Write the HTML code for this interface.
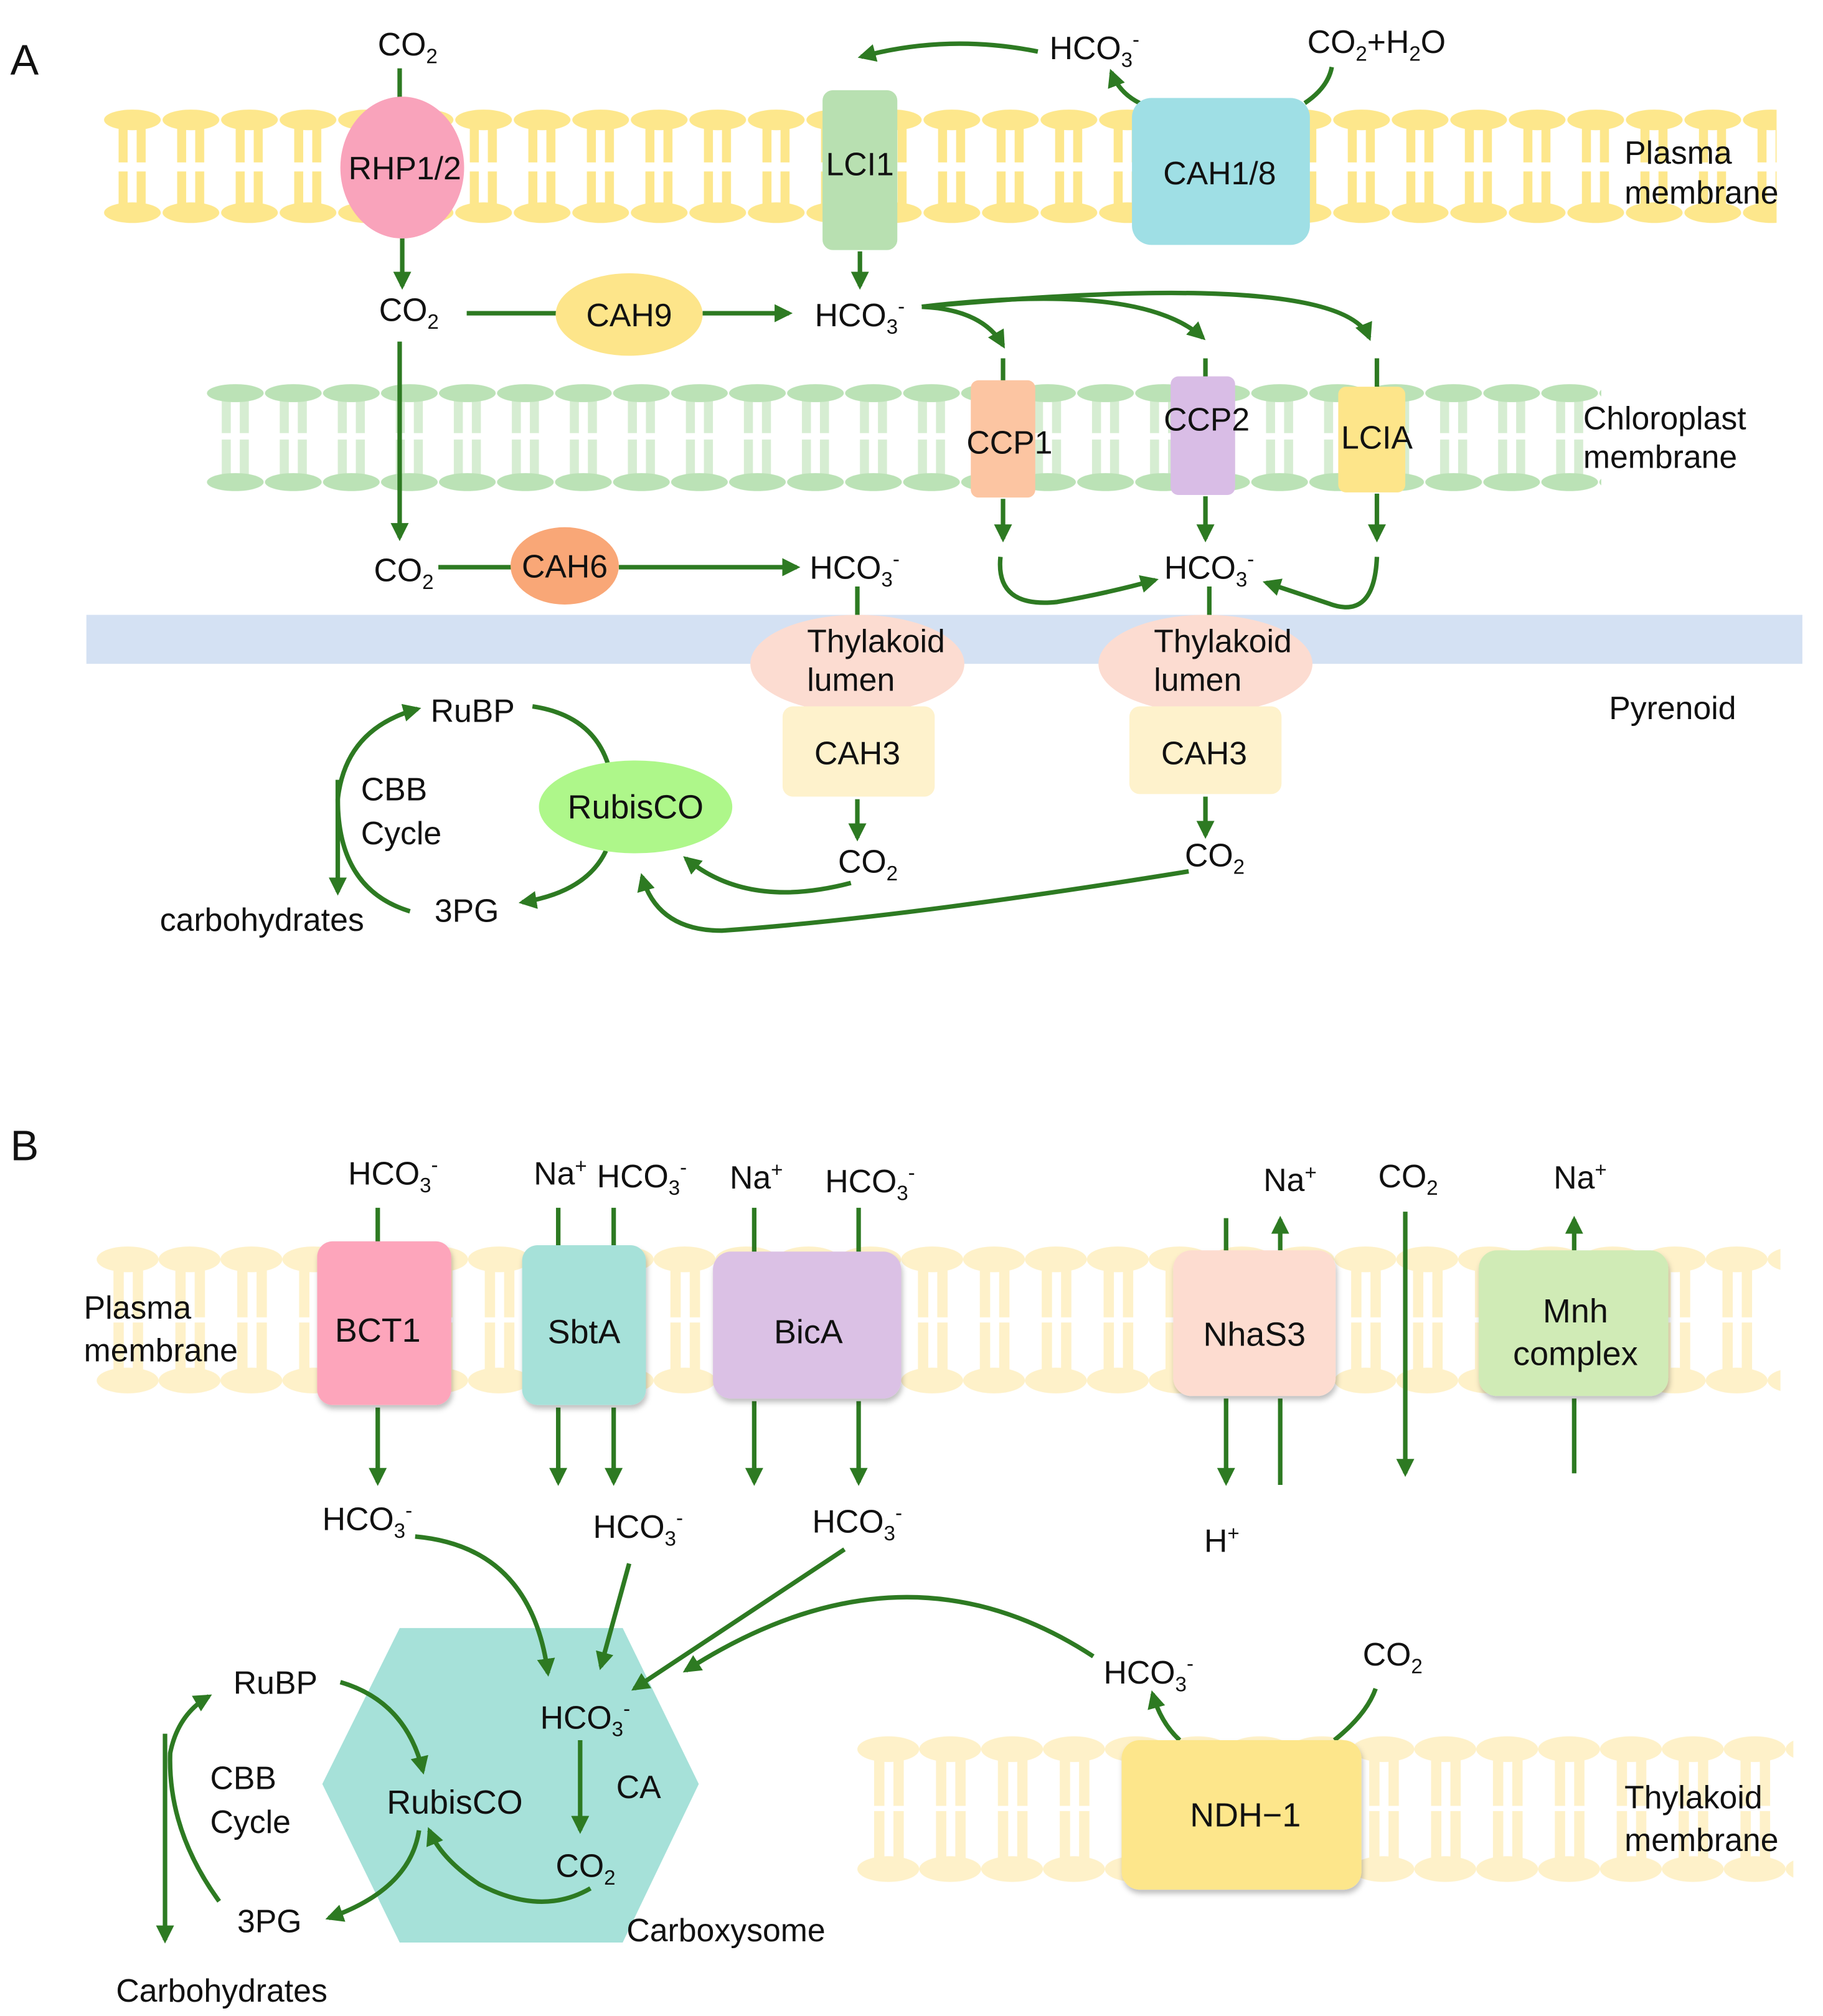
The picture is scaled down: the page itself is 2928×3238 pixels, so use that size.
<!DOCTYPE html>
<html><head><meta charset="utf-8"><style>
html,body{margin:0;padding:0;background:#fff;}
svg{display:block}
text{font-family:"Liberation Sans",Arial,sans-serif;fill:#111;}
</style></head><body>
<svg width="2928" height="3238" viewBox="0 0 1414 1564" preserveAspectRatio="none" xmlns="http://www.w3.org/2000/svg">
<defs>
<marker id="ah" viewBox="0 0 10 10" refX="8" refY="5" markerWidth="4" markerHeight="4" orient="auto" markerUnits="strokeWidth">
<path d="M0,0 L10,5 L0,10 z" fill="#2d7a22"/></marker>
<pattern id="pmA" patternUnits="userSpaceOnUse" x="80" y="84" width="45.4" height="92">
<rect x="12" y="9" width="7" height="33" fill="#fde78c"/><rect x="26" y="9" width="7" height="33" fill="#fde78c"/>
<rect x="12" y="49" width="7" height="33" fill="#fde78c"/><rect x="26" y="49" width="7" height="33" fill="#fde78c"/>
<ellipse cx="22.7" cy="9" rx="22" ry="8" fill="#fde78c"/><ellipse cx="22.7" cy="81" rx="22" ry="8" fill="#fde78c"/>
</pattern>
<pattern id="chA" patternUnits="userSpaceOnUse" x="160" y="297" width="45" height="85">
<rect x="12" y="7" width="7" height="32" fill="#d6edd2"/><rect x="26" y="7" width="7" height="32" fill="#d6edd2"/>
<rect x="12" y="44" width="7" height="34" fill="#d6edd2"/><rect x="26" y="44" width="7" height="34" fill="#d6edd2"/>
<ellipse cx="22.5" cy="8" rx="22" ry="7" fill="#bbe2b6"/><ellipse cx="22.5" cy="77" rx="22" ry="7" fill="#bbe2b6"/>
</pattern>
<pattern id="pmB" patternUnits="userSpaceOnUse" x="75" y="966" width="48" height="116">
<rect x="13" y="11" width="8" height="45" fill="#fef1c9"/><rect x="28" y="11" width="8" height="45" fill="#fef1c9"/>
<rect x="13" y="60" width="8" height="45" fill="#fef1c9"/><rect x="28" y="60" width="8" height="45" fill="#fef1c9"/>
<ellipse cx="24" cy="11" rx="24" ry="10" fill="#fef1c9"/><ellipse cx="24" cy="105" rx="24" ry="10" fill="#fef1c9"/>
</pattern>
<pattern id="thB" patternUnits="userSpaceOnUse" x="665" y="1346" width="48" height="115">
<rect x="13" y="11" width="8" height="44" fill="#fef1c9"/><rect x="28" y="11" width="8" height="44" fill="#fef1c9"/>
<rect x="13" y="59" width="8" height="45" fill="#fef1c9"/><rect x="28" y="59" width="8" height="45" fill="#fef1c9"/>
<ellipse cx="24" cy="11" rx="24" ry="10" fill="#fef1c9"/><ellipse cx="24" cy="104" rx="24" ry="10" fill="#fef1c9"/>
</pattern>
<filter id="sh" x="-20%" y="-20%" width="140%" height="140%"><feDropShadow dx="1" dy="3" stdDeviation="2" flood-color="#000" flood-opacity="0.25"/></filter>
</defs>

<g font-size="25">
<!-- ===== Panel A ===== -->
<text x="8" y="58" font-size="33">A</text>
<rect x="80" y="84" width="1298" height="92" fill="url(#pmA)"/>
<rect x="160" y="297" width="1082" height="85" fill="url(#chA)"/>
<rect x="67" y="477" width="1331" height="38" fill="#d4e1f3"/>

<g stroke="#2d7a22" stroke-width="3.5" fill="none">
<line x1="310" y1="53" x2="310" y2="80"/>
<line x1="312" y1="185" x2="312" y2="222" marker-end="url(#ah)"/>
<line x1="362" y1="243" x2="432" y2="243"/>
<line x1="545" y1="243" x2="612" y2="243" marker-end="url(#ah)"/>
<line x1="310" y1="265" x2="310" y2="417" marker-end="url(#ah)"/>
<line x1="340" y1="440" x2="398" y2="440"/>
<line x1="480" y1="440" x2="618" y2="440" marker-end="url(#ah)"/>
<line x1="667" y1="195" x2="667" y2="222" marker-end="url(#ah)"/>
<path d="M805,40 Q735,26 668,44" marker-end="url(#ah)"/>
<path d="M1012,80 Q1030,68 1033,52"/>
<path d="M884,80 Q868,72 862,56" marker-end="url(#ah)"/>
<path d="M715,238 Q762,240 778,268" marker-end="url(#ah)"/>
<path d="M715,238 Q885,218 933,262" marker-end="url(#ah)"/>
<path d="M715,238 Q1040,208 1062,262" marker-end="url(#ah)"/>
<line x1="778" y1="278" x2="778" y2="296"/>
<line x1="935" y1="278" x2="935" y2="293"/>
<line x1="1068" y1="278" x2="1068" y2="300"/>
<line x1="778" y1="387" x2="778" y2="418" marker-end="url(#ah)"/>
<line x1="935" y1="385" x2="935" y2="418" marker-end="url(#ah)"/>
<line x1="1068" y1="383" x2="1068" y2="418" marker-end="url(#ah)"/>
<path d="M776,432 Q772,472 820,467 Q860,460 896,450" marker-end="url(#ah)"/>
<path d="M1068,432 Q1066,482 1030,468 Q1000,458 982,452" marker-end="url(#ah)"/>
<line x1="938" y1="455" x2="938" y2="480"/>
<line x1="665" y1="455" x2="665" y2="480"/>
<line x1="665" y1="620" x2="665" y2="650" marker-end="url(#ah)"/>
<line x1="935" y1="618" x2="935" y2="648" marker-end="url(#ah)"/>
<path d="M413,548 Q460,555 472,594"/>
<path d="M470,660 Q455,692 405,700" marker-end="url(#ah)"/>
<path d="M318,707 Q262,690 262,620 Q268,565 324,550" marker-end="url(#ah)"/>
<line x1="262" y1="605" x2="262" y2="692" marker-end="url(#ah)"/>
<path d="M660,685 Q580,706 532,666" marker-end="url(#ah)"/>
<path d="M922,676 Q700,712 560,722 Q510,722 498,680" marker-end="url(#ah)"/>
</g>

<ellipse cx="312" cy="130" rx="48" ry="55" fill="#f9a3bb"/>
<text x="314" y="139" text-anchor="middle">RHP1/2</text>
<rect x="638" y="70" width="58" height="124" rx="8" fill="#b8e0b1"/>
<text x="667" y="136" text-anchor="middle">LCI1</text>
<rect x="878" y="76" width="138" height="114" rx="15" fill="#9fdfe5"/>
<text x="946" y="143" text-anchor="middle">CAH1/8</text>
<ellipse cx="488" cy="244" rx="57" ry="32" fill="#fde58a"/>
<text x="488" y="253" text-anchor="middle">CAH9</text>
<ellipse cx="438" cy="439" rx="42" ry="30" fill="#f9a777"/>
<text x="438" y="448" text-anchor="middle">CAH6</text>
<rect x="753" y="295" width="50" height="91" rx="6" fill="#fcc5a2"/>
<text x="783" y="352" text-anchor="middle">CCP1</text>
<rect x="908" y="292" width="50" height="92" rx="6" fill="#d9bde6"/>
<text x="936" y="334" text-anchor="middle">CCP2</text>
<rect x="1038" y="300" width="52" height="82" rx="6" fill="#fde58a"/>
<text x="1068" y="348" text-anchor="middle">LCIA</text>
<ellipse cx="665" cy="515" rx="83" ry="38" fill="#fcdcd1"/>
<ellipse cx="935" cy="515" rx="83" ry="38" fill="#fcdcd1"/>
<rect x="607" y="548" width="118" height="70" rx="8" fill="#fef2cc"/>
<rect x="876" y="548" width="118" height="68" rx="8" fill="#fef2cc"/>
<text x="626" y="506">Thylakoid</text><text x="626" y="536">lumen</text>
<text x="895" y="506">Thylakoid</text><text x="895" y="536">lumen</text>
<text x="665" y="593" text-anchor="middle">CAH3</text>
<text x="934" y="593" text-anchor="middle">CAH3</text>
<ellipse cx="493" cy="626" rx="75" ry="36" fill="#aef78a"/>
<text x="493" y="635" text-anchor="middle" font-size="26">RubisCO</text>

<text x="293" y="43">CO<tspan font-size="16" dy="6">2</tspan></text>
<text x="294" y="249">CO<tspan font-size="16" dy="6">2</tspan></text>
<text x="290" y="451">CO<tspan font-size="16" dy="6">2</tspan></text>
<text x="632" y="253">HCO<tspan font-size="16" dy="6">3</tspan><tspan font-size="16" dy="-16">-</tspan></text>
<text x="628" y="449">HCO<tspan font-size="16" dy="6">3</tspan><tspan font-size="16" dy="-16">-</tspan></text>
<text x="903" y="449">HCO<tspan font-size="16" dy="6">3</tspan><tspan font-size="16" dy="-16">-</tspan></text>
<text x="814" y="46">HCO<tspan font-size="16" dy="6">3</tspan><tspan font-size="16" dy="-16">-</tspan></text>
<text x="1014" y="41">CO<tspan font-size="16" dy="6">2</tspan><tspan dy="-6">+H</tspan><tspan font-size="16" dy="6">2</tspan><tspan dy="-6">O</tspan></text>
<text x="650" y="677">CO<tspan font-size="16" dy="6">2</tspan></text>
<text x="919" y="672">CO<tspan font-size="16" dy="6">2</tspan></text>
<text x="1260" y="127">Plasma</text><text x="1260" y="158">membrane</text>
<text x="1228" y="333">Chloroplast</text><text x="1228" y="363">membrane</text>
<text x="1248" y="558">Pyrenoid</text>
<text x="334" y="560">RuBP</text>
<text x="337" y="715">3PG</text>
<text x="280" y="621">CBB</text><text x="280" y="655">Cycle</text>
<text x="124" y="722">carbohydrates</text>

<!-- ===== Panel B ===== -->
<text x="8" y="900" font-size="33">B</text>
<rect x="75" y="966" width="1306" height="116" fill="url(#pmB)"/>
<rect x="665" y="1346" width="726" height="115" fill="url(#thB)"/>
<polygon points="310,1263 483,1263 542,1384 483,1507 310,1507 250,1384" fill="#a6e1d9"/>

<g stroke="#2d7a22" stroke-width="3.5" fill="none">
<line x1="293" y1="937" x2="293" y2="964"/>
<line x1="293" y1="1092" x2="293" y2="1150" marker-end="url(#ah)"/>
<line x1="433" y1="937" x2="433" y2="967"/>
<line x1="476" y1="937" x2="476" y2="967"/>
<line x1="433" y1="1092" x2="433" y2="1150" marker-end="url(#ah)"/>
<line x1="476" y1="1092" x2="476" y2="1150" marker-end="url(#ah)"/>
<line x1="585" y1="937" x2="585" y2="972"/>
<line x1="666" y1="937" x2="666" y2="972"/>
<line x1="585" y1="1087" x2="585" y2="1150" marker-end="url(#ah)"/>
<line x1="666" y1="1087" x2="666" y2="1150" marker-end="url(#ah)"/>
<line x1="951" y1="945" x2="951" y2="971"/>
<line x1="951" y1="1085" x2="951" y2="1150" marker-end="url(#ah)"/>
<line x1="993" y1="970" x2="993" y2="946" marker-end="url(#ah)"/>
<line x1="993" y1="1085" x2="993" y2="1152"/>
<line x1="1090" y1="940" x2="1090" y2="1143" marker-end="url(#ah)"/>
<line x1="1221" y1="970" x2="1221" y2="946" marker-end="url(#ah)"/>
<line x1="1221" y1="1085" x2="1221" y2="1143"/>
<path d="M322,1192 Q412,1200 425,1298" marker-end="url(#ah)"/>
<path d="M488,1213 L466,1293" marker-end="url(#ah)"/>
<path d="M655,1202 L492,1310" marker-end="url(#ah)"/>
<path d="M848,1285 Q700,1188 532,1296" marker-end="url(#ah)"/>
<line x1="450" y1="1350" x2="450" y2="1420" marker-end="url(#ah)"/>
<path d="M264,1305 Q315,1320 328,1374" marker-end="url(#ah)"/>
<path d="M325,1420 Q318,1466 255,1488" marker-end="url(#ah)"/>
<path d="M458,1465 Q420,1487 372,1462 Q342,1442 333,1420" marker-end="url(#ah)"/>
<path d="M170,1475 Q130,1420 132,1360 Q138,1330 162,1316" marker-end="url(#ah)"/>
<line x1="128" y1="1345" x2="128" y2="1505" marker-end="url(#ah)"/>
<path d="M915,1350 Q900,1336 894,1314" marker-end="url(#ah)"/>
<path d="M1035,1350 Q1060,1330 1067,1310"/>
</g>

<g filter="url(#sh)">
<rect x="246" y="963" width="104" height="127" rx="12" fill="#fda5bb"/>
<rect x="405" y="966" width="96" height="124" rx="12" fill="#a6e1d9"/>
<rect x="553" y="971" width="146" height="114" rx="14" fill="#dbc1e5"/>
<rect x="910" y="970" width="126" height="113" rx="14" fill="#fddcd0"/>
<rect x="1147" y="970" width="147" height="113" rx="14" fill="#d0ebb6"/>
<rect x="870" y="1350" width="186" height="116" rx="14" fill="#fde68b"/>
</g>
<text x="293" y="1041" text-anchor="middle" font-size="26">BCT1</text>
<text x="453" y="1042" text-anchor="middle" font-size="26">SbtA</text>
<text x="627" y="1042" text-anchor="middle" font-size="26">BicA</text>
<text x="973" y="1044" text-anchor="middle" font-size="26">NhaS3</text>
<text x="1222" y="1026" text-anchor="middle" font-size="26">Mnh</text>
<text x="1222" y="1059" text-anchor="middle" font-size="26">complex</text>
<text x="966" y="1417" text-anchor="middle" font-size="26">NDH−1</text>

<text x="270" y="919">HCO<tspan font-size="16" dy="6">3</tspan><tspan font-size="16" dy="-16">-</tspan></text>
<text x="414" y="919">Na<tspan font-size="16" dy="-9">+</tspan></text>
<text x="463" y="921">HCO<tspan font-size="16" dy="6">3</tspan><tspan font-size="16" dy="-16">-</tspan></text>
<text x="566" y="922">Na<tspan font-size="16" dy="-9">+</tspan></text>
<text x="640" y="925">HCO<tspan font-size="16" dy="6">3</tspan><tspan font-size="16" dy="-16">-</tspan></text>
<text x="980" y="924">Na<tspan font-size="16" dy="-9">+</tspan></text>
<text x="1069" y="921">CO<tspan font-size="16" dy="6">2</tspan></text>
<text x="1205" y="922">Na<tspan font-size="16" dy="-9">+</tspan></text>
<text x="934" y="1204">H<tspan font-size="16" dy="-9">+</tspan></text>
<text x="250" y="1187">HCO<tspan font-size="16" dy="6">3</tspan><tspan font-size="16" dy="-16">-</tspan></text>
<text x="460" y="1193">HCO<tspan font-size="16" dy="6">3</tspan><tspan font-size="16" dy="-16">-</tspan></text>
<text x="630" y="1189">HCO<tspan font-size="16" dy="6">3</tspan><tspan font-size="16" dy="-16">-</tspan></text>
<text x="419" y="1341">HCO<tspan font-size="16" dy="6">3</tspan><tspan font-size="16" dy="-16">-</tspan></text>
<text x="856" y="1306">HCO<tspan font-size="16" dy="6">3</tspan><tspan font-size="16" dy="-16">-</tspan></text>
<text x="1057" y="1292">CO<tspan font-size="16" dy="6">2</tspan></text>
<text x="431" y="1456">CO<tspan font-size="16" dy="6">2</tspan></text>
<text x="478" y="1395">CA</text>
<text x="300" y="1407" font-size="26">RubisCO</text>
<text x="181" y="1314">RuBP</text>
<text x="163" y="1388">CBB</text><text x="163" y="1422">Cycle</text>
<text x="184" y="1499">3PG</text>
<text x="90" y="1553">Carbohydrates</text>
<text x="486" y="1506">Carboxysome</text>
<text x="65" y="1023">Plasma</text><text x="65" y="1056">membrane</text>
<text x="1260" y="1403">Thylakoid</text><text x="1260" y="1436">membrane</text>
</g>
</svg>
</body></html>
